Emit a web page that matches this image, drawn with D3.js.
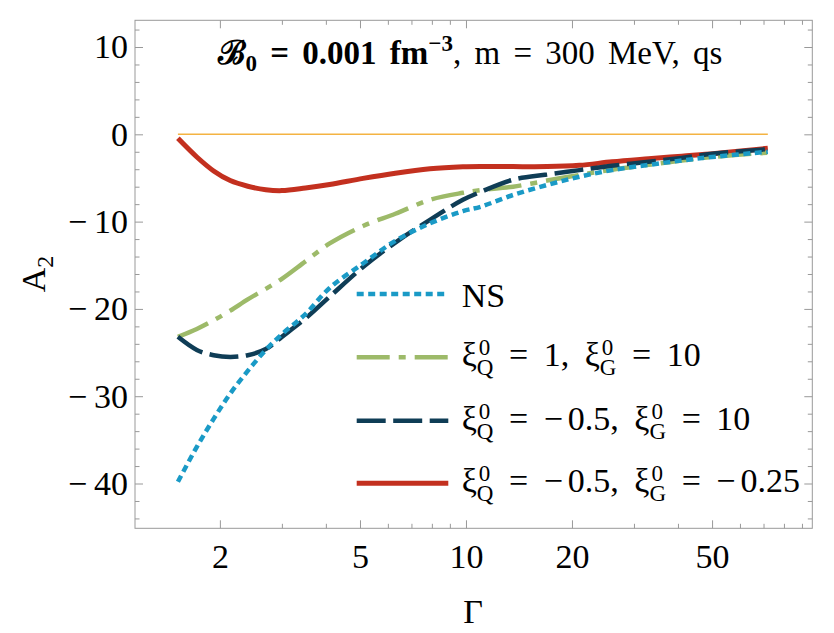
<!DOCTYPE html>
<html>
<head>
<meta charset="utf-8">
<script src="https://cdn.jsdelivr.net/npm/d3@7"></script>
<style>
  body { margin: 0; background: #fff; }
  svg { display: block; font-family: "Liberation Serif", "Times New Roman", serif; }
</style>
</head>
<body>
<svg width="834" height="633"></svg>
<script>
// Gamma grid (log axis) and A2 values
let gamma   = [1.52, 1.72, 1.92, 2.14, 2.4, 2.7, 3.0, 3.5, 4.1, 5.1, 6.3, 7.9, 9.8, 11, 13.6, 17, 21, 26, 33, 41, 51, 72];
let nsVals  = [-39.8, -35.8, -32.6, -29.7, -27.1, -24.7, -22.9, -20.6, -17.6, -14.8, -12.2, -10.2, -8.8, -8.3, -6.95, -5.8, -4.86, -4.1, -3.5, -3.0, -2.56, -2.0];
let q1Vals  = [-23.2, -22.3, -21.3, -20.2, -18.9, -17.7, -16.55, -14.55, -12.5, -10.5, -9.1, -7.5, -6.7, -6.4, -6.0, -5.3, -4.66, -4.05, -3.5, -3.0, -2.56, -2.1];
let q2Vals  = [-23.2, -24.7, -25.3, -25.5, -25.3, -24.6, -23.2, -21.1, -18.6, -15.2, -12.4, -9.8, -7.5, -6.6, -5.2, -4.6, -4.1, -3.6, -3.14, -2.7, -2.2, -1.7];
let q3Vals  = [-0.46, -2.6, -4.2, -5.3, -5.95, -6.35, -6.45, -6.15, -5.75, -5.05, -4.45, -3.95, -3.72, -3.68, -3.7, -3.7, -3.55, -3.15, -2.8, -2.5, -2.2, -1.6];
let zeroVals = gamma.map(() => 0);

let xMajor = [2, 5, 10, 20, 50];
let xMinor = [3, 4, 6, 7, 8, 9, 30, 40, 60, 70, 80, 90];
let yMajor = [-40, -30, -20, -10, 0, 10];
let yMinor = d3.range(-44, 13, 2).filter(v => v % 10 !== 0);

let series = [
    {vals: q3Vals, color: '#c3301f', width: 5,   dash: null,         key: 'q3'},
    {vals: q1Vals, color: '#9dba69', width: 4.5, dash: '33,9,7,9',   key: 'q1'},
    {vals: q2Vals, color: '#0f3d56', width: 4.5, dash: '29,7.5',     key: 'q2'},
    {vals: nsVals, color: '#1a9ac6', width: 4.5, dash: '7,4.5',      key: 'ns'}
];

let svg = d3.select('svg');
svg.append('rect').attr('width', 834).attr('height', 633).attr('fill', '#fff');

let pLeft = 135, pRight = 812.3, pTop = 20.3, pBottom = 528.3;
let serif = '"Liberation Serif", "Times New Roman", serif';

let x = d3.scaleLog()
    .domain([1.148, 96.3])
    .range([pLeft, pRight]);

let y = d3.scaleLinear()
    .domain([-45.13, 13.06])
    .range([pBottom, pTop]);

let fmt = d => d < 0 ? '\u2212\u2009' + Math.abs(d) : String(d);
let tickColor = '#999';

function styleAxis(g) {
    g.attr('font-family', serif).attr('font-size', 34);
    g.select('.domain').remove();
    g.selectAll('line').attr('stroke', tickColor);
    g.selectAll('text').attr('fill', '#000');
}

// left (labelled) + right
svg.append('g').attr('transform', `translate(${pLeft},0)`)
    .call(d3.axisLeft(y).tickValues(yMajor).tickSize(-8).tickPadding(7).tickFormat(fmt)).call(styleAxis);
svg.append('g').attr('transform', `translate(${pLeft},0)`)
    .call(d3.axisLeft(y).tickValues(yMinor).tickSize(-4.5).tickFormat('')).call(styleAxis);
svg.append('g').attr('transform', `translate(${pRight},0)`)
    .call(d3.axisRight(y).tickValues(yMajor).tickSize(-8).tickFormat('')).call(styleAxis);
svg.append('g').attr('transform', `translate(${pRight},0)`)
    .call(d3.axisRight(y).tickValues(yMinor).tickSize(-4.5).tickFormat('')).call(styleAxis);

// bottom (labelled) + top
svg.append('g').attr('transform', `translate(0,${pBottom})`)
    .call(d3.axisBottom(x).tickValues(xMajor).tickSize(-8).tickPadding(16).tickFormat(d3.format('d'))).call(styleAxis);
svg.append('g').attr('transform', `translate(0,${pBottom})`)
    .call(d3.axisBottom(x).tickValues(xMinor).tickSize(-4.5).tickFormat('')).call(styleAxis);
svg.append('g').attr('transform', `translate(0,${pTop})`)
    .call(d3.axisTop(x).tickValues(xMajor).tickSize(-8).tickFormat('')).call(styleAxis);
svg.append('g').attr('transform', `translate(0,${pTop})`)
    .call(d3.axisTop(x).tickValues(xMinor).tickSize(-4.5).tickFormat('')).call(styleAxis);

svg.append('rect')
    .attr('x', pLeft).attr('y', pTop)
    .attr('width', pRight - pLeft).attr('height', pBottom - pTop)
    .attr('fill', 'none').attr('stroke', tickColor).attr('stroke-width', 1);

// curves
let line = d3.line()
    .x((d, i) => x(gamma[i]))
    .y(d => y(d))
    .curve(d3.curveCatmullRom.alpha(0.5));

svg.append('path')
    .attr('d', line(zeroVals))
    .attr('fill', 'none').attr('stroke', '#f4b342').attr('stroke-width', 1.5);

svg.append('g').selectAll('path').data(series).join('path')
    .attr('d', s => line(s.vals))
    .attr('fill', 'none')
    .attr('stroke', s => s.color)
    .attr('stroke-width', s => s.width)
    .attr('stroke-dasharray', s => s.dash);

// axis titles
svg.append('text')
    .attr('transform', 'translate(45,274) rotate(-90)')
    .attr('text-anchor', 'middle').style('font-size', '34px')
    .call(t => {
        t.append('tspan').text('A');
        t.append('tspan').attr('dy', 8).style('font-size', '24px').text('2');
    });

svg.append('text')
    .attr('x', 473).attr('y', 623)
    .attr('text-anchor', 'middle').style('font-size', '34px')
    .text('\u0393');

// title
let title = svg.append('text')
    .attr('x', 470).attr('y', 64)
    .attr('text-anchor', 'middle').style('font-size', '33px')
    .style('word-spacing', '5px');
title.append('tspan').attr('font-weight', 'bold').text('\u212C');
title.append('tspan').attr('font-weight', 'bold').attr('dy', 7).style('font-size', '23px').text('0');
title.append('tspan').attr('font-weight', 'bold').attr('dy', -7).text(' = 0.001 fm');
title.append('tspan').attr('font-weight', 'bold').attr('dy', -13).style('font-size', '23px').text('\u22123');
title.append('tspan').attr('dy', 13).text(', m = 300 MeV, qs');

// legend
let legendRows = [
    {key: 'ns', y: 294,   label: null},
    {key: 'q1', y: 357.3, label: [['Q', '1'], ['G', '10']]},
    {key: 'q2', y: 420.7, label: [['Q', '\u22120.5'], ['G', '10']]},
    {key: 'q3', y: 483.3, label: [['Q', '\u22120.5'], ['G', '\u22120.25']]}
];

let lg = svg.append('g');
legendRows.forEach(r => {
    let s = series.find(d => d.key === r.key);
    lg.append('line')
        .attr('x1', 356.7).attr('x2', 448.3)
        .attr('y1', r.y).attr('y2', r.y)
        .attr('stroke', s.color).attr('stroke-width', s.width)
        .attr('stroke-dasharray', s.dash);

    let t = lg.append('text')
        .attr('x', 461.7)
        .attr('y', r.y + (r.label ? 9 : 13))
        .style('font-size', '34px')
        .style('word-spacing', '7px');
    if (!r.label) { t.text('NS'); return; }
    r.label.forEach((p, i) => {
        t.append('tspan').text((i ? ', ' : '') + '\u03BE');
        t.append('tspan').attr('dy', -11).attr('dx', 2).style('font-size', '23px').text('0');
        t.append('tspan').attr('dy', 20).attr('dx', -13.5).style('font-size', '23px').text(p[0]);
        if (p[1].startsWith('\u2212')) {
            t.append('tspan').attr('dy', -9).text(' = \u2212');
            t.append('tspan').attr('dx', 5).text(p[1].slice(1));
        } else {
            t.append('tspan').attr('dy', -9).text(' = ' + p[1]);
        }
    });
});
</script>
</body>
</html>
